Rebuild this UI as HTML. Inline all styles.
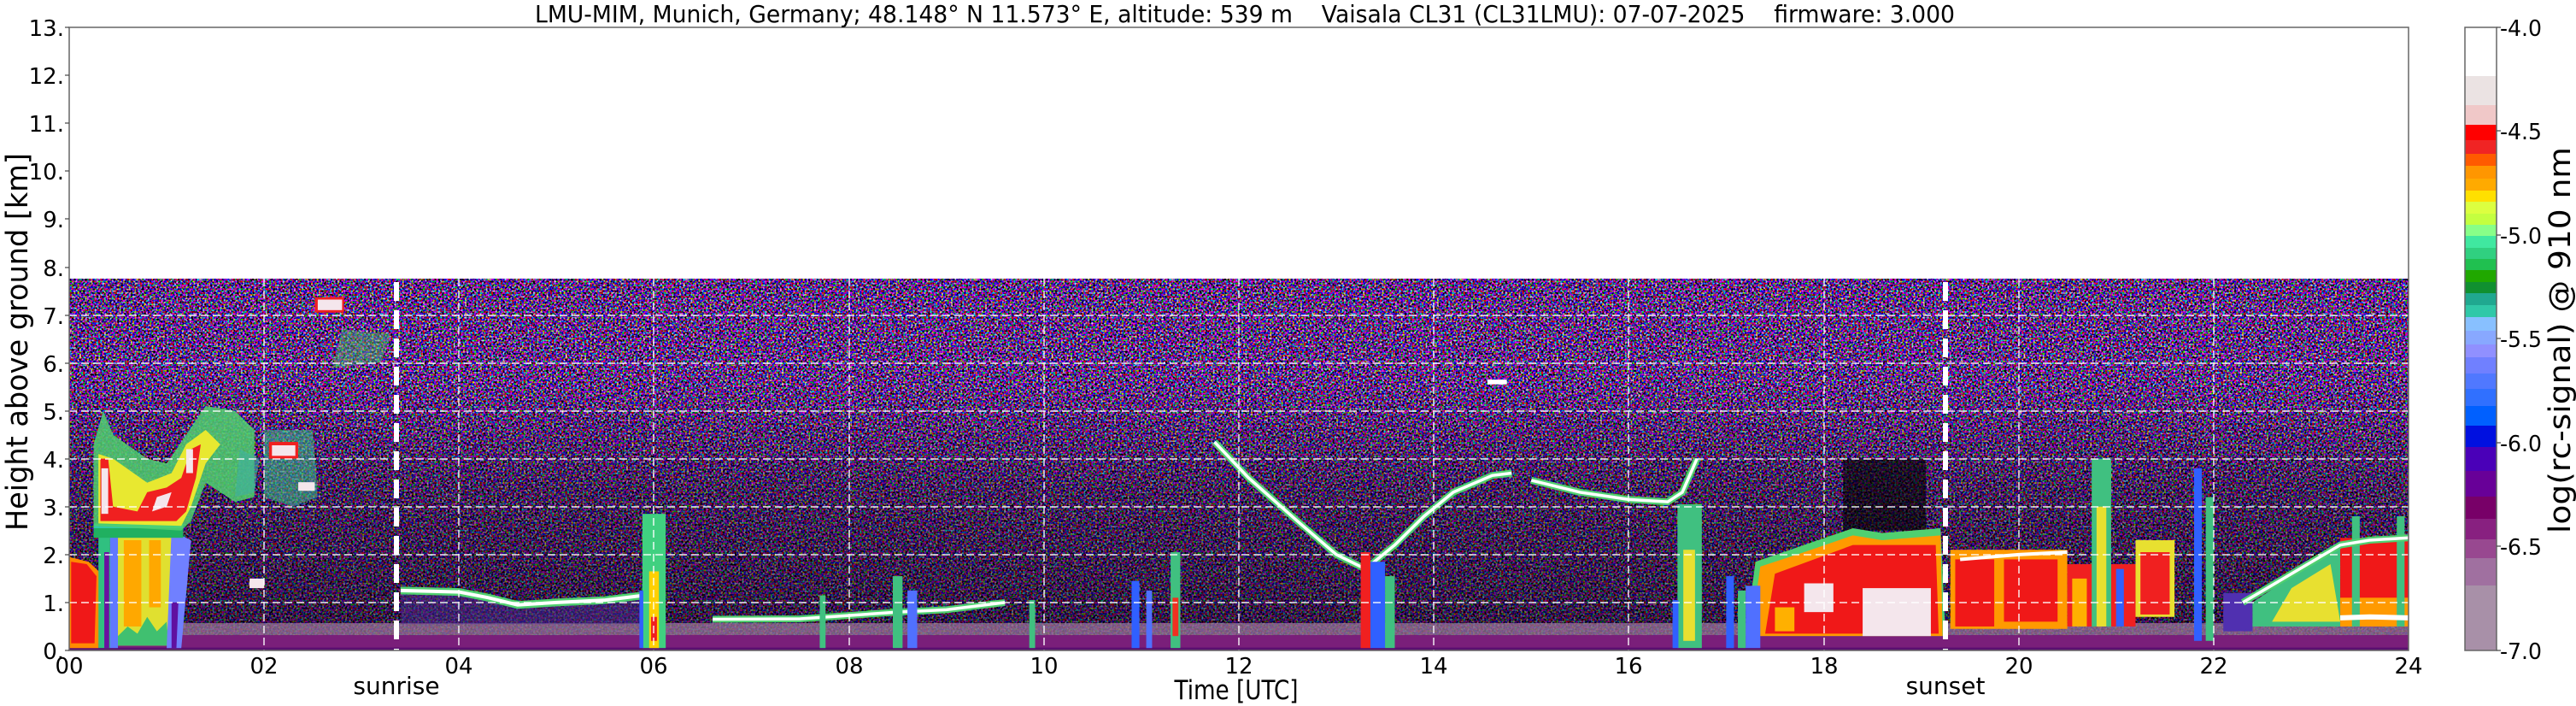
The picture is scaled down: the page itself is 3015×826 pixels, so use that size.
<!DOCTYPE html>
<html><head><meta charset="utf-8"><style>
html,body{margin:0;padding:0;background:#fff;}
svg{display:block;}
text{font-family:"DejaVu Sans","Liberation Sans",sans-serif;fill:#000;}
</style></head><body>
<svg width="3015" height="826" viewBox="0 0 3015 826" xmlns="http://www.w3.org/2000/svg">
<defs>
<filter id="nz" x="0" y="0" width="100%" height="100%" filterUnits="objectBoundingBox">
<feTurbulence type="fractalNoise" baseFrequency="0.45" numOctaves="1" seed="7" result="t"/>
<feColorMatrix in="t" type="matrix" values="3.2 0 0 0 -1.45  0 3.2 0 0 -1.65  0 0 3.4 0 -1.4  0 0 0 0 1"/>
</filter>
<linearGradient id="dk" x1="0" y1="1" x2="0" y2="0">
<stop offset="0" stop-color="#000" stop-opacity="0.5"/>
<stop offset="0.6" stop-color="#000" stop-opacity="0.3"/>
<stop offset="1" stop-color="#000" stop-opacity="0"/>
</linearGradient>
<clipPath id="pc"><rect x="81" y="32" width="2738" height="729"/></clipPath>
</defs>

<rect x="81" y="326" width="2738" height="435" fill="#201238"/>
<rect x="81" y="326" width="2738" height="435" filter="url(#nz)"/>
<rect x="81" y="450" width="2738" height="311" fill="url(#dk)"/>

<g clip-path="url(#pc)">
<g transform="translate(81,761) scale(114.08,-56.08)">
<rect x="0" y="0" width="24" height="0.32" fill="#7a1f7a"/>
<rect x="0" y="0.32" width="24" height="0.25" fill="#a07aa0" opacity="0.7"/>
<rect x="0" y="0" width="24" height="0.06" fill="#5a1070"/>

<polygon points="0,0.05 0.3,0.05 0.33,1.6 0.2,1.85 0,1.95" fill="#ff8a00"/>
<polygon points="0.02,0.15 0.26,0.15 0.28,1.55 0.18,1.8 0.02,1.85" fill="#f01818"/>
<rect x="0.3" y="0.05" width="0.12" height="2.55" fill="#30c080"/>
<rect x="0.36" y="0.05" width="0.05" height="2.0" fill="#6a10a0"/>
<rect x="0.42" y="0.05" width="0.08" height="2.55" fill="#6078ff"/>
<polygon points="0.5,0.1 1.02,0.1 1.05,2.45 0.5,2.45" fill="#e0e030"/>
<rect x="0.56" y="0.5" width="0.18" height="1.8" fill="#ffa800"/>
<rect x="0.82" y="0.9" width="0.12" height="1.4" fill="#ffa800"/>
<polygon points="0.5,0.1 1.02,0.1 1.0,0.6 0.9,0.4 0.8,0.7 0.7,0.35 0.6,0.5 0.5,0.3" fill="#40c070"/>
<polygon points="1.0,0.05 1.15,0.05 1.25,2.3 1.05,2.5" fill="#7080ff"/>
<polygon points="1.05,0.05 1.1,0.05 1.12,1.0 1.05,1.0" fill="#6010a0"/>
<rect x="0.25" y="2.35" width="0.92" height="0.3" fill="#20b060"/>
<rect x="0.25" y="2.55" width="0.92" height="0.08" fill="#30c8a8"/>
<polygon points="0.25,2.6 0.25,4.3 0.35,5.0 0.45,4.5 0.8,4.0 1.0,3.9 1.2,4.5 1.4,5.1 1.7,5.0 1.9,4.6 1.9,3.2 1.7,3.1 1.4,3.5 1.25,2.7 1.15,2.5" fill="#50d070" opacity="0.85"/>
<polygon points="0.3,2.65 0.3,4.1 0.45,4.0 0.8,3.5 1.05,3.7 1.2,4.3 1.4,4.6 1.55,4.3 1.4,3.9 1.25,3.0 1.15,2.6" fill="#e8e830"/>
<polygon points="0.32,2.7 0.32,4.0 0.4,4.0 0.45,3.0 0.7,2.9 0.8,3.3 1.0,3.4 1.15,3.6 1.25,4.2 1.35,4.3 1.3,3.6 1.2,2.9 1.1,2.7" fill="#f02020"/>
<rect x="0.33" y="2.85" width="0.07" height="0.95" fill="#f4e6ec"/>
<polygon points="0.85,2.9 1.0,3.0 1.05,3.3 0.9,3.2" fill="#f4e6ec"/>
<rect x="1.2" y="3.7" width="0.07" height="0.5" fill="#f4e6ec"/>
<polygon points="1.7,3.2 1.9,3.3 1.95,4.0 1.75,4.2" fill="#40b0a0" opacity="0.6"/>
<polygon points="2.0,3.2 2.0,4.6 2.5,4.6 2.55,3.2 2.3,3.0" fill="#40c090" opacity="0.55"/>
<rect x="2.05" y="4.0" width="0.3" height="0.35" fill="#f02020"/>
<rect x="2.08" y="4.06" width="0.24" height="0.22" fill="#f4e6ec"/>
<rect x="2.35" y="3.33" width="0.17" height="0.18" fill="#f4e6ec"/>
<rect x="1.85" y="1.3" width="0.15" height="0.2" fill="#f4e6ec"/>
<rect x="2.52" y="7.05" width="0.3" height="0.32" fill="#f02020"/>
<rect x="2.55" y="7.1" width="0.25" height="0.22" fill="#f4e6ec"/>
<polygon points="2.7,5.9 3.2,6.0 3.3,6.6 2.8,6.7" fill="#50c070" opacity="0.45"/>

<polygon points="3.4,0.55 3.4,1.25 4.0,1.22 4.3,1.1 4.6,0.95 5.0,1.0 5.5,1.05 5.9,1.15 5.9,0.55" fill="#4a2a90" opacity="0.5"/>
<polyline points="3.4,1.25 4.0,1.22 4.3,1.1 4.6,0.95 5.0,1.0 5.5,1.05 5.9,1.15" fill="none" stroke="#50d070" stroke-width="9" vector-effect="non-scaling-stroke"/>
<polyline points="3.4,1.25 4.0,1.22 4.3,1.1 4.6,0.95 5.0,1.0 5.5,1.05 5.9,1.15" fill="none" stroke="#fff" stroke-width="4" vector-effect="non-scaling-stroke"/>
<rect x="5.88" y="0.05" width="0.24" height="2.8" fill="#40d080"/>
<rect x="5.95" y="0.05" width="0.1" height="1.6" fill="#ffd000"/>
<rect x="5.97" y="0.2" width="0.06" height="0.5" fill="#f02020"/>
<rect x="5.85" y="0.05" width="0.04" height="1.2" fill="#3060ff"/>
<polyline points="6.6,0.65 7.5,0.66 8.5,0.8 9.0,0.85 9.6,1.0" fill="none" stroke="#50d070" stroke-width="8" vector-effect="non-scaling-stroke"/>
<polyline points="6.6,0.65 7.5,0.66 8.5,0.8 9.0,0.85 9.6,1.0" fill="none" stroke="#fff" stroke-width="3.5" vector-effect="non-scaling-stroke"/>
<rect x="7.7" y="0.05" width="0.06" height="1.1" fill="#40c080"/>
<rect x="8.45" y="0.05" width="0.1" height="1.5" fill="#40c080"/>
<rect x="8.6" y="0.05" width="0.1" height="1.2" fill="#5070ff"/>
<rect x="9.85" y="0.05" width="0.06" height="1.0" fill="#40c080"/>
<rect x="10.9" y="0.05" width="0.08" height="1.4" fill="#3060ff"/>
<rect x="11.05" y="0.05" width="0.06" height="1.2" fill="#5070ff"/>
<rect x="11.3" y="0.05" width="0.1" height="2.0" fill="#40c080"/>
<rect x="11.32" y="0.3" width="0.06" height="0.8" fill="#f03020"/>

<polyline points="11.75,4.35 12.1,3.6 12.6,2.7 13.0,2.0 13.3,1.7 13.6,2.2 13.9,2.8 14.2,3.3 14.6,3.65 14.8,3.7" fill="none" stroke="#50d070" stroke-width="8" vector-effect="non-scaling-stroke"/>
<polyline points="15.0,3.55 15.5,3.3 16.0,3.15 16.4,3.1 16.55,3.3 16.7,4.0" fill="none" stroke="#50d070" stroke-width="8" vector-effect="non-scaling-stroke"/>
<polyline points="11.75,4.35 12.1,3.6 12.6,2.7 13.0,2.0 13.3,1.7 13.6,2.2 13.9,2.8 14.2,3.3 14.6,3.65 14.8,3.7" fill="none" stroke="#fff" stroke-width="3.5" vector-effect="non-scaling-stroke"/>
<polyline points="15.0,3.55 15.5,3.3 16.0,3.15 16.4,3.1 16.55,3.3 16.7,4.0" fill="none" stroke="#fff" stroke-width="3.5" vector-effect="non-scaling-stroke"/>
<rect x="13.25" y="0.05" width="0.1" height="2.0" fill="#f02020"/>
<rect x="13.35" y="0.05" width="0.15" height="1.8" fill="#3060ff"/>
<rect x="13.5" y="0.05" width="0.1" height="1.5" fill="#40c080"/>
<rect x="14.55" y="5.55" width="0.2" height="0.1" fill="#fff"/>
<rect x="16.5" y="0.05" width="0.25" height="3.0" fill="#40c080"/>
<rect x="16.56" y="0.2" width="0.12" height="1.9" fill="#e8e030"/>
<rect x="16.45" y="0.05" width="0.06" height="1.0" fill="#3060ff"/>
<rect x="17.0" y="0.05" width="0.08" height="1.5" fill="#3060ff"/>
<rect x="17.12" y="0.05" width="0.08" height="1.2" fill="#40c080"/>

<rect x="18.2" y="2.5" width="0.85" height="1.5" fill="#000" opacity="0.6"/>
<polygon points="17.2,0.3 17.3,1.85 17.8,2.2 18.3,2.55 18.6,2.45 19.2,2.55 19.25,0.3" fill="#50d070"/>
<polygon points="17.25,0.3 17.35,1.75 17.8,2.05 18.3,2.4 18.6,2.3 19.2,2.4 19.22,0.3" fill="#ff9a00"/>
<polygon points="17.4,0.35 17.5,1.6 17.9,1.9 18.3,2.2 19.15,2.2 19.18,0.35" fill="#f01818"/>
<rect x="18.4" y="0.3" width="0.7" height="1.0" fill="#f4e6ec"/>
<rect x="17.8" y="0.8" width="0.3" height="0.6" fill="#f4e6ec"/>
<rect x="17.5" y="0.4" width="0.2" height="0.5" fill="#ffb000"/>
<rect x="17.2" y="0.05" width="0.15" height="1.3" fill="#5070ff"/>
<rect x="19.3" y="0.45" width="1.2" height="1.65" fill="#ff9a00"/>
<rect x="19.35" y="0.5" width="0.4" height="1.4" fill="#f01818"/>
<rect x="19.85" y="0.6" width="0.55" height="1.3" fill="#f01818"/>
<polyline points="19.4,1.9 20.0,2.0 20.5,2.05" fill="none" stroke="#fff" stroke-width="4" vector-effect="non-scaling-stroke"/>
<rect x="20.5" y="0.5" width="0.7" height="1.3" fill="#f02020"/>
<rect x="20.55" y="0.5" width="0.15" height="1.0" fill="#ffb000"/>
<rect x="20.75" y="0.5" width="0.2" height="3.5" fill="#40c080"/>
<rect x="20.8" y="0.5" width="0.1" height="2.5" fill="#e8e030"/>
<rect x="21.0" y="0.5" width="0.08" height="1.2" fill="#3060ff"/>
<rect x="21.2" y="0.7" width="0.4" height="1.6" fill="#e8e030"/>
<rect x="21.25" y="0.75" width="0.3" height="1.3" fill="#f02020"/>
<rect x="21.8" y="0.2" width="0.08" height="3.6" fill="#3060ff"/>
<rect x="21.92" y="0.2" width="0.08" height="3.0" fill="#40c080"/>
<rect x="22.1" y="0.4" width="0.3" height="0.8" fill="#5030b0"/>
<polygon points="22.4,0.5 22.4,1.0 22.8,1.55 23.3,2.15 23.3,0.5" fill="#40c080"/>
<polygon points="22.6,0.6 22.8,1.3 23.2,1.8 23.3,0.6" fill="#e8e030"/>
<rect x="23.3" y="0.5" width="0.7" height="1.85" fill="#f01818"/>
<rect x="23.3" y="0.5" width="0.7" height="0.6" fill="#ff9a00"/>
<rect x="23.42" y="0.5" width="0.08" height="2.3" fill="#40c080"/>
<rect x="23.88" y="0.5" width="0.08" height="2.3" fill="#40c080"/>
<polyline points="22.3,1.0 22.8,1.6 23.3,2.2 23.6,2.3 24,2.35" fill="none" stroke="#50d070" stroke-width="8" vector-effect="non-scaling-stroke"/>
<polyline points="22.3,1.0 22.8,1.6 23.3,2.2 23.6,2.3 24,2.35" fill="none" stroke="#fff" stroke-width="3.5" vector-effect="non-scaling-stroke"/>
<polyline points="23.3,0.68 23.6,0.7 24,0.68" fill="none" stroke="#fff" stroke-width="6" vector-effect="non-scaling-stroke"/>
</g>

<g stroke="#fff" stroke-width="1.5" stroke-dasharray="9,5" opacity="0.9">
<line x1="81" y1="705" x2="2819" y2="705"/>
<line x1="81" y1="649" x2="2819" y2="649"/>
<line x1="81" y1="593" x2="2819" y2="593"/>
<line x1="81" y1="537" x2="2819" y2="537"/>
<line x1="81" y1="481" x2="2819" y2="481"/>
<line x1="81" y1="425" x2="2819" y2="425"/>
<line x1="81" y1="369" x2="2819" y2="369"/>
<line x1="309" y1="326" x2="309" y2="761"/>
<line x1="537" y1="326" x2="537" y2="761"/>
<line x1="765" y1="326" x2="765" y2="761"/>
<line x1="994" y1="326" x2="994" y2="761"/>
<line x1="1222" y1="326" x2="1222" y2="761"/>
<line x1="1450" y1="326" x2="1450" y2="761"/>
<line x1="1678" y1="326" x2="1678" y2="761"/>
<line x1="1906" y1="326" x2="1906" y2="761"/>
<line x1="2135" y1="326" x2="2135" y2="761"/>
<line x1="2363" y1="326" x2="2363" y2="761"/>
<line x1="2591" y1="326" x2="2591" y2="761"/>
</g>
<g stroke="#fff" stroke-width="6" stroke-dasharray="22,11">
<line x1="464" y1="330" x2="464" y2="761"/>
<line x1="2277" y1="330" x2="2277" y2="761"/>
</g>
</g>

<rect x="81" y="32" width="2738" height="729" fill="none" stroke="#666" stroke-width="1.5"/>
<g stroke="#444" stroke-width="1.2">
<line x1="76" y1="761" x2="81" y2="761"/><line x1="76" y1="705" x2="81" y2="705"/><line x1="76" y1="649" x2="81" y2="649"/><line x1="76" y1="593" x2="81" y2="593"/><line x1="76" y1="537" x2="81" y2="537"/><line x1="76" y1="481" x2="81" y2="481"/><line x1="76" y1="425" x2="81" y2="425"/><line x1="76" y1="369" x2="81" y2="369"/><line x1="76" y1="313" x2="81" y2="313"/><line x1="76" y1="256" x2="81" y2="256"/><line x1="76" y1="200" x2="81" y2="200"/><line x1="76" y1="144" x2="81" y2="144"/><line x1="76" y1="88" x2="81" y2="88"/><line x1="76" y1="32" x2="81" y2="32"/>
</g>

<g font-size="26" text-anchor="end">
<text x="75" y="771">0.</text><text x="75" y="715">1.</text><text x="75" y="659">2.</text><text x="75" y="603">3.</text><text x="75" y="547">4.</text><text x="75" y="491">5.</text><text x="75" y="435">6.</text><text x="75" y="379">7.</text><text x="75" y="323">8.</text><text x="75" y="266">9.</text><text x="75" y="210">10.</text><text x="75" y="154">11.</text><text x="75" y="98">12.</text><text x="75" y="42">13.</text>
</g>
<g font-size="26" text-anchor="middle">
<text x="81" y="788">00</text><text x="309" y="788">02</text><text x="537" y="788">04</text><text x="765" y="788">06</text><text x="994" y="788">08</text><text x="1222" y="788">10</text><text x="1450" y="788">12</text><text x="1678" y="788">14</text><text x="1906" y="788">16</text><text x="2135" y="788">18</text><text x="2363" y="788">20</text><text x="2591" y="788">22</text><text x="2819" y="788">24</text>
<text x="464" y="812" font-size="28">sunrise</text>
<text x="2277" y="812" font-size="28">sunset</text>
<text x="1447" y="818" font-size="31" textLength="145" lengthAdjust="spacingAndGlyphs">Time [UTC]</text>
</g>
<text x="626" y="26" font-size="28" textLength="1662" lengthAdjust="spacingAndGlyphs" xml:space="preserve">LMU-MIM, Munich, Germany; 48.148° N 11.573° E, altitude: 539 m    Vaisala CL31 (CL31LMU): 07-07-2025    firmware: 3.000</text>
<text transform="translate(32,400) rotate(-90)" font-size="35" text-anchor="middle" textLength="442" lengthAdjust="spacingAndGlyphs">Height above ground [km]</text>

<g>
<rect x="2885" y="32" width="37" height="57" fill="#ffffff"/>
<rect x="2885" y="89" width="37" height="34" fill="#ebe3e3"/>
<rect x="2885" y="123" width="37" height="23" fill="#f0c8c8"/>
<rect x="2885" y="146" width="37" height="18" fill="#ff0000"/>
<rect x="2885" y="164" width="37" height="16" fill="#f02424"/>
<rect x="2885" y="180" width="37" height="14" fill="#ff5a00"/>
<rect x="2885" y="194" width="37" height="15" fill="#ff9600"/>
<rect x="2885" y="209" width="37" height="14" fill="#ffaa00"/>
<rect x="2885" y="223" width="37" height="13" fill="#ffe000"/>
<rect x="2885" y="236" width="37" height="14" fill="#dcff40"/>
<rect x="2885" y="250" width="37" height="13" fill="#c4ff40"/>
<rect x="2885" y="263" width="37" height="13" fill="#88ff88"/>
<rect x="2885" y="276" width="37" height="14" fill="#40e8a0"/>
<rect x="2885" y="290" width="37" height="13" fill="#30d080"/>
<rect x="2885" y="303" width="37" height="13" fill="#20c050"/>
<rect x="2885" y="316" width="37" height="14" fill="#20a800"/>
<rect x="2885" y="330" width="37" height="13" fill="#109030"/>
<rect x="2885" y="343" width="37" height="14" fill="#20a890"/>
<rect x="2885" y="357" width="37" height="14" fill="#30c8a8"/>
<rect x="2885" y="371" width="37" height="16" fill="#88c0ff"/>
<rect x="2885" y="387" width="37" height="16" fill="#88a8ff"/>
<rect x="2885" y="403" width="37" height="15" fill="#9090ff"/>
<rect x="2885" y="418" width="37" height="19" fill="#7080ff"/>
<rect x="2885" y="437" width="37" height="18" fill="#5078ff"/>
<rect x="2885" y="455" width="37" height="20" fill="#3070ff"/>
<rect x="2885" y="475" width="37" height="23" fill="#0060ff"/>
<rect x="2885" y="498" width="37" height="25" fill="#0010e0"/>
<rect x="2885" y="523" width="37" height="28" fill="#4a00b8"/>
<rect x="2885" y="551" width="37" height="30" fill="#680098"/>
<rect x="2885" y="581" width="37" height="26" fill="#780068"/>
<rect x="2885" y="607" width="37" height="24" fill="#882080"/>
<rect x="2885" y="631" width="37" height="22" fill="#984890"/>
<rect x="2885" y="653" width="37" height="32" fill="#a070a0"/>
<rect x="2885" y="685" width="37" height="76" fill="#a890a8"/>
<rect x="2885" y="32" width="37" height="729" fill="none" stroke="#666" stroke-width="1.5"/>
<g stroke="#444" stroke-width="1.2">
<line x1="2922" y1="32" x2="2927" y2="32"/><line x1="2922" y1="153" x2="2927" y2="153"/><line x1="2922" y1="275" x2="2927" y2="275"/><line x1="2922" y1="396" x2="2927" y2="396"/><line x1="2922" y1="518" x2="2927" y2="518"/><line x1="2922" y1="639" x2="2927" y2="639"/><line x1="2922" y1="761" x2="2927" y2="761"/>
</g>
<g font-size="26">
<text x="2926" y="42" textLength="49" lengthAdjust="spacingAndGlyphs">-4.0</text><text x="2926" y="163" textLength="49" lengthAdjust="spacingAndGlyphs">-4.5</text><text x="2926" y="285" textLength="49" lengthAdjust="spacingAndGlyphs">-5.0</text><text x="2926" y="406" textLength="49" lengthAdjust="spacingAndGlyphs">-5.5</text><text x="2926" y="528" textLength="49" lengthAdjust="spacingAndGlyphs">-6.0</text><text x="2926" y="649" textLength="49" lengthAdjust="spacingAndGlyphs">-6.5</text><text x="2926" y="771" textLength="49" lengthAdjust="spacingAndGlyphs">-7.0</text>
</g>
<text transform="translate(3008,398) rotate(-90)" font-size="35" text-anchor="middle" textLength="452" lengthAdjust="spacingAndGlyphs">log(rc-signal) @ 910 nm</text>
</g>
</svg>
</body></html>
